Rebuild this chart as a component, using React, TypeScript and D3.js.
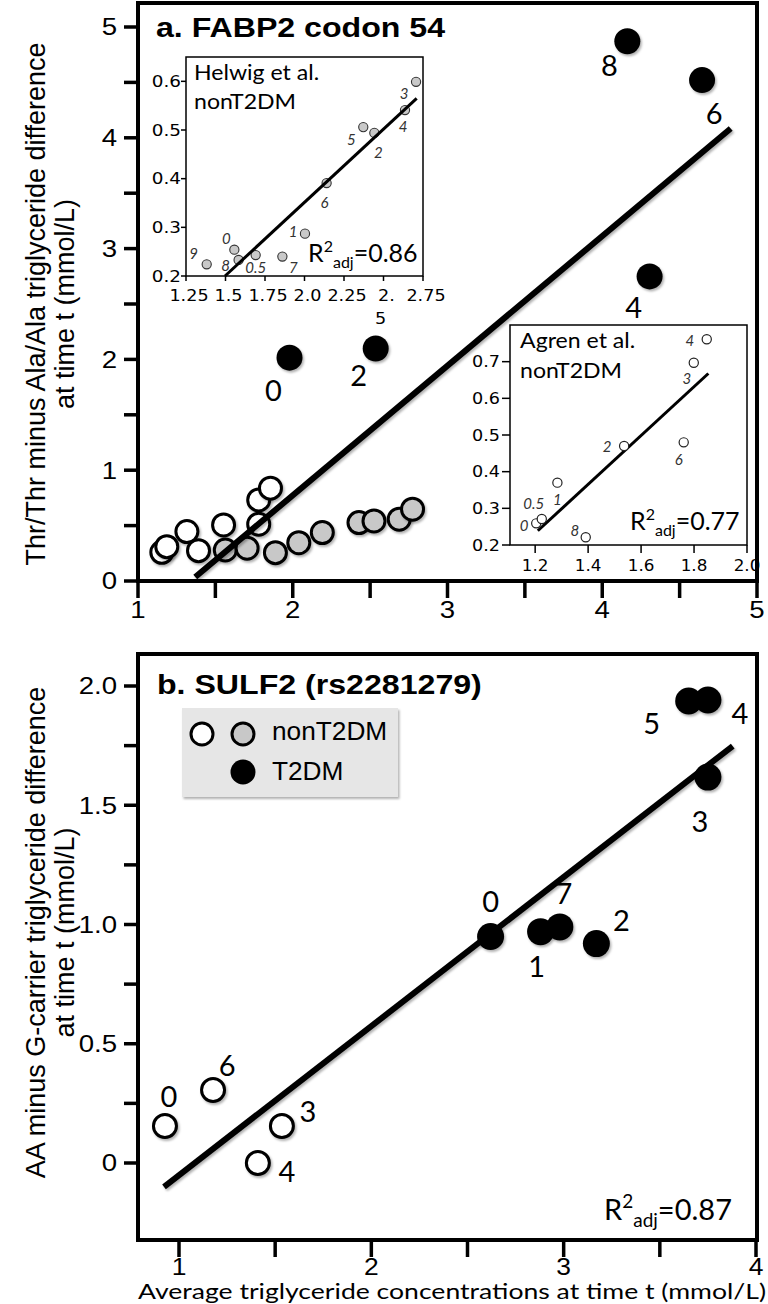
import React, { useEffect, useRef } from 'react';
import * as d3 from 'd3';

const W = 768, H = 1304;
const HELV = 'Liberation Sans, Arial, Helvetica, sans-serif';
const CAL = 'Lato, Carlito, sans-serif';
const DJV = 'DejaVu Sans, Verdana, sans-serif';

// ---- panel a: FABP2 codon 54 ----
const aOpenX = [1.154, 1.186, 1.316, 1.391, 1.553, 1.78, 1.78, 1.856];
const aOpenY = [0.259, 0.31, 0.446, 0.274, 0.506, 0.513, 0.732, 0.838];
const aGrayX = [1.564, 1.705, 1.888, 2.039, 2.191, 2.428, 2.525, 2.688, 2.774];
const aGrayY = [0.28, 0.296, 0.256, 0.346, 0.437, 0.527, 0.542, 0.558, 0.648];
const aBlackLabels = ['0', '2', '4', '8', '6'];
const aBlackX = [1.979, 2.536, 4.306, 4.162, 4.645];
const aBlackY = [2.016, 2.098, 2.749, 4.871, 4.521];
const aFit = [-1.567, 1.17]; // intercept, slope
const aFitRange = [1.37, 4.83];
const aTickLabels = ['1', '2', '3', '4', '5'];
const aYTickLabels = ['0', '1', '2', '3', '4', '5'];

// inset: Helwig et al. nonT2DM
const helLabels = ['9', '0', '8', '0.5', '7', '1', '6', '5', '2', '4', '3'];
const helX = [1.381, 1.556, 1.583, 1.691, 1.86, 2.003, 2.14, 2.372, 2.442, 2.636, 2.706];
const helY = [0.224, 0.254, 0.233, 0.243, 0.24, 0.287, 0.391, 0.506, 0.494, 0.541, 0.599];
const helFit = [-0.2506, 0.301];
const helFitRange = [1.497, 2.71];
const helXTicks = [1.25, 1.5, 1.75, 2.0, 2.25, 2.5, 2.75];
const helXTickLabels = ['1.25', '1.5', '1.75', '2.0', '2.25', '2.\n5', '2.75'];
const helYTicks = [0.2, 0.3, 0.4, 0.5, 0.6];

// inset: Agren et al. nonT2DM
const agrLabels = ['0', '0.5', '1', '8', '2', '6', '3', '4'];
const agrX = [1.204, 1.225, 1.284, 1.391, 1.536, 1.761, 1.799, 1.848];
const agrY = [0.259, 0.271, 0.37, 0.221, 0.47, 0.48, 0.697, 0.761];
const agrFit = [-0.567, 0.666];
const agrFitRange = [1.21, 1.854];
const agrXTicks = [1.2, 1.4, 1.6, 1.8, 2.0];
const agrYTicks = [0.2, 0.3, 0.4, 0.5, 0.6, 0.7];

// ---- panel b: SULF2 (rs2281279) ----
const bOpenLabels = ['0', '6', '3', '4'];
const bOpenX = [0.927, 1.177, 1.535, 1.41];
const bOpenY = [0.155, 0.306, 0.155, 0.0];
const bBlackLabels = ['0', '1', '7', '2', '5', '4', '3'];
const bBlackX = [2.62, 2.88, 2.98, 3.17, 3.65, 3.75, 3.75];
const bBlackY = [0.95, 0.97, 0.99, 0.92, 1.937, 1.941, 1.618];
const bFit = [-0.676, 0.625];
const bFitRange = [0.922, 3.879];
const bTickLabels = ['1', '2', '3', '4'];
const bYTicks = [0, 0.5, 1, 1.5, 2];
const bYTickLabels = ['0', '0.5', '1.0', '1.5', '2.0'];

// label offsets (px) next to each point
const aBlackOff = [[-16, 32], [-17, 26], [-16, 30], [-18, 23], [12, 32]];
const helOff = [[-13, -11], [-8, -12], [-13, 5], [0, 12], [11, 10], [-12, -3], [-2, 19], [-12, 12], [4, 19], [-2, 16], [-12, 11]];
const agrOff = [[-12, 2], [-8, -16], [0, 16], [-11, -7], [-17, 0], [-5, 17], [-7, 15], [-17, 1]];
const bOpenOff = [[4, -31], [14, -26], [26, -16], [29, 7]];
const bBlackOff = [[0, -36], [-4, 34], [4, -34], [25, -24], [-37, 21], [32, 12], [-8, 43]];

function txt(g: any, x: number, y: number, s: string, size: number, family: string, o: any = {}) {
  return g.append('text')
    .attr('transform', `translate(${x},${y}) scale(${o.sx || 1},1)`)
    .attr('text-anchor', o.anchor || 'middle')
    .attr('dominant-baseline', o.base || 'central')
    .attr('font-family', family)
    .attr('font-size', size)
    .attr('font-weight', o.weight || 'normal')
    .attr('font-style', o.italic ? 'italic' : 'normal')
    .attr('fill', o.fill || '#000')
    .text(s);
}

function r2(g: any, x: number, y: number, val: string, size = 25) {
  const small = Math.round(size * 0.64);
  const t = g.append('text').attr('x', x).attr('y', y)
    .attr('font-family', CAL).attr('font-size', size).attr('fill', '#000');
  t.append('tspan').text('R');
  t.append('tspan').attr('font-size', small).attr('dy', -size * 0.4).text('2');
  t.append('tspan').attr('font-size', small).attr('dy', size * 0.64).text('adj');
  t.append('tspan').attr('dy', -size * 0.24).text('=' + val);
}

function fitLine(g: any, xs: any, ys: any, fit: number[], range: number[], w: number, shadow: boolean) {
  const line = d3.line<number>().x(d => xs(d)).y(d => ys(fit[0] + fit[1] * d));
  const p = g.append('path').datum(range).attr('d', line)
    .attr('stroke', '#000').attr('stroke-width', w).attr('fill', 'none');
  if (shadow) p.attr('filter', 'url(#sh)');
}

export default function App() {
  const ref = useRef<SVGSVGElement>(null);

  useEffect(() => {
    const svg = d3.select(ref.current);
    svg.selectAll('*').remove();

    const defs = svg.append('defs');
    defs.append('filter').attr('id', 'sh').attr('x', '-50%').attr('y', '-50%').attr('width', '200%').attr('height', '200%')
      .append('feDropShadow').attr('dx', 1.5).attr('dy', 2).attr('stdDeviation', 1.3)
      .attr('flood-color', '#000').attr('flood-opacity', 0.3);

    svg.append('rect').attr('width', W).attr('height', H).attr('fill', '#fff');

    // ================= panel a =================
    const ax = d3.scaleLinear().domain([1, 5]).range([138, 757]);
    const ay = d3.scaleLinear().domain([0, 5]).range([581, 27]);
    const ga = svg.append('g');

    ga.selectAll('.axt').data(d3.range(1, 5.01, 0.5)).join('line')
      .attr('x1', d => ax(d)).attr('x2', d => ax(d)).attr('y1', ay(0)).attr('y2', ay(0) + 17)
      .attr('stroke', '#000').attr('stroke-width', 3.5);
    aTickLabels.forEach((l, i) => txt(ga, ax(i + 1), 610, l, 24, HELV, { sx: 1.15 }));
    ga.selectAll('.ayt').data(d3.range(0, 5.01, 0.5)).join('line')
      .attr('x1', 124).attr('x2', 138).attr('y1', d => ay(d)).attr('y2', d => ay(d))
      .attr('stroke', '#000').attr('stroke-width', 3.5);
    aYTickLabels.forEach((l, i) => txt(ga, 117, ay(i), l, 24, HELV, { anchor: 'end', sx: 1.15 }));

    ga.append('rect').attr('x', 138).attr('y', 3).attr('width', 757 - 138).attr('height', ay(0) - 3)
      .attr('fill', 'none').attr('stroke', '#000').attr('stroke-width', 4);

    const ta = ga.append('g').attr('transform', `translate(36,${(ay(0) + ay(5)) / 2}) rotate(-90)`);
    txt(ta, 0, 0, 'Thr/Thr minus Ala/Ala triglyceride difference', 27, HELV);
    const ta2 = ga.append('g').attr('transform', `translate(65,${(ay(0) + ay(5)) / 2}) rotate(-90)`);
    txt(ta2, 0, 0, 'at time t (mmol/L)', 27, HELV);

    txt(ga, 156, 37, 'a. FABP2 codon 54', 27, HELV, { anchor: 'start', base: 'auto', weight: 'bold', sx: 1.19 });

    // inset Helwig
    const hx = d3.scaleLinear().domain([1.25, 2.75]).range([186, 423]);
    const hy = d3.scaleLinear().domain([0.2, 0.65]).range([276, 57]);
    const gh = ga.append('g');
    gh.append('rect').attr('x', hx(1.25)).attr('y', hy(0.65)).attr('width', hx(2.75) - hx(1.25)).attr('height', hy(0.2) - hy(0.65))
      .attr('fill', '#fff').attr('stroke', '#000').attr('stroke-width', 1.5);
    gh.selectAll('.hxt').data(helXTicks).join('line')
      .attr('x1', d => hx(d)).attr('x2', d => hx(d)).attr('y1', hy(0.2)).attr('y2', hy(0.2) + 5)
      .attr('stroke', '#000').attr('stroke-width', 1.5);
    helXTickLabels.forEach((l, i) => {
      const parts = l.split('\n');
      parts.forEach((p, k) => txt(gh, hx(helXTicks[i]) + 3 - k * 6, 295 + k * 23, p, 16, DJV, { sx: 1.1 }));
    });
    gh.selectAll('.hyt').data(helYTicks).join('line')
      .attr('x1', hx(1.25) - 5).attr('x2', hx(1.25)).attr('y1', d => hy(d)).attr('y2', d => hy(d))
      .attr('stroke', '#000').attr('stroke-width', 1.5);
    helYTicks.forEach(v => txt(gh, 181, hy(v), v.toFixed(1), 16, DJV, { anchor: 'end', sx: 1.15 }));
    txt(gh, 194, 80, 'Helwig et al.', 22, CAL, { anchor: 'start', base: 'auto', sx: 1.05 });
    txt(gh, 194, 109, 'nonT2DM', 22, CAL, { anchor: 'start', base: 'auto', sx: 1.05 });
    gh.selectAll('.hp').data(helX).join('circle')
      .attr('cx', d => hx(d)).attr('cy', (d, i) => hy(helY[i])).attr('r', 4.6)
      .attr('fill', '#c9c9c9').attr('stroke', '#333').attr('stroke-width', 1.1);
    fitLine(gh, hx, hy, helFit, helFitRange, 3, false);
    helLabels.forEach((l, i) => txt(gh, hx(helX[i]) + helOff[i][0], hy(helY[i]) + helOff[i][1], l, 15, CAL, { italic: true, fill: '#333' }));
    r2(gh, 308, 262, '0.86');

    // main points
    ga.selectAll('.gp').data(aGrayX).join('circle')
      .attr('cx', d => ax(d)).attr('cy', (d, i) => ay(aGrayY[i])).attr('r', 11)
      .attr('fill', '#c8c8c8').attr('stroke', '#000').attr('stroke-width', 3).attr('filter', 'url(#sh)');
    ga.selectAll('.op').data(aOpenX).join('circle')
      .attr('cx', d => ax(d)).attr('cy', (d, i) => ay(aOpenY[i])).attr('r', 11)
      .attr('fill', '#fff').attr('stroke', '#000').attr('stroke-width', 3).attr('filter', 'url(#sh)');
    fitLine(ga, ax, ay, aFit, aFitRange, 6, true);
    ga.selectAll('.bp').data(aBlackX).join('circle')
      .attr('cx', d => ax(d)).attr('cy', (d, i) => ay(aBlackY[i])).attr('r', 13)
      .attr('fill', '#000').attr('filter', 'url(#sh)');
    aBlackLabels.forEach((l, i) => txt(ga, ax(aBlackX[i]) + aBlackOff[i][0], ay(aBlackY[i]) + aBlackOff[i][1], l, 29, CAL));

    // inset Agren
    const gx = d3.scaleLinear().domain([1.105, 2.0]).range([510, 747]);
    const gy = d3.scaleLinear().domain([0.2, 0.8]).range([545, 325]);
    const gg = ga.append('g');
    gg.append('rect').attr('x', gx(1.105)).attr('y', gy(0.8)).attr('width', gx(2.0) - gx(1.105)).attr('height', gy(0.2) - gy(0.8))
      .attr('fill', '#fff').attr('stroke', '#000').attr('stroke-width', 1.5);
    gg.selectAll('.gxt').data(agrXTicks).join('line')
      .attr('x1', d => gx(d)).attr('x2', d => gx(d)).attr('y1', gy(0.2)).attr('y2', gy(0.2) + 8)
      .attr('stroke', '#000').attr('stroke-width', 1.5);
    agrXTicks.forEach(v => txt(gg, gx(v), 566, v.toFixed(1), 16, DJV, { sx: 1.05 }));
    gg.selectAll('.gyt').data(agrYTicks).join('line')
      .attr('x1', gx(1.105) - 8).attr('x2', gx(1.105)).attr('y1', d => gy(d)).attr('y2', d => gy(d))
      .attr('stroke', '#000').attr('stroke-width', 1.5);
    agrYTicks.forEach(v => txt(gg, 500, gy(v), v.toFixed(1), 16, DJV, { anchor: 'end', sx: 1.1 }));
    txt(gg, 520, 348, 'Agren et al.', 22, CAL, { anchor: 'start', base: 'auto', sx: 1.05 });
    txt(gg, 520, 378, 'nonT2DM', 22, CAL, { anchor: 'start', base: 'auto', sx: 1.05 });
    fitLine(gg, gx, gy, agrFit, agrFitRange, 3, false);
    gg.selectAll('.ap').data(agrX).join('circle')
      .attr('cx', d => gx(d)).attr('cy', (d, i) => gy(agrY[i])).attr('r', 4.6)
      .attr('fill', '#fff').attr('stroke', '#222').attr('stroke-width', 1.2);
    agrLabels.forEach((l, i) => txt(gg, gx(agrX[i]) + agrOff[i][0], gy(agrY[i]) + agrOff[i][1], l, 15, CAL, { italic: true, fill: '#333' }));
    r2(gg, 630, 530, '0.77');

    // ================= panel b =================
    const bx = d3.scaleLinear().domain([1, 4]).range([179, 756]);
    const by = d3.scaleLinear().domain([0, 2]).range([1163, 686]);
    const gb = svg.append('g');
    const bTop = 654, bBottom = 1240;

    gb.selectAll('.bxt').data(d3.range(1, 4.01, 0.5)).join('line')
      .attr('x1', d => bx(d)).attr('x2', d => bx(d)).attr('y1', bBottom).attr('y2', bBottom + 17)
      .attr('stroke', '#000').attr('stroke-width', 3.5);
    bTickLabels.forEach((l, i) => txt(gb, bx(i + 1), 1267, l, 23, HELV, { sx: 1.15 }));
    gb.selectAll('.byt').data(d3.range(0, 2.01, 0.25)).join('line')
      .attr('x1', 124).attr('x2', 138).attr('y1', d => by(d)).attr('y2', d => by(d))
      .attr('stroke', '#000').attr('stroke-width', 3.5);
    bYTicks.forEach((v, i) => txt(gb, 117, by(v), bYTickLabels[i], 24, HELV, { anchor: 'end', sx: 1.15 }));
    gb.append('rect').attr('x', 138).attr('y', bTop).attr('width', 757 - 138).attr('height', bBottom - bTop)
      .attr('fill', 'none').attr('stroke', '#000').attr('stroke-width', 4);

    const midB = (by(0) + by(2)) / 2 + 8;
    const tb = gb.append('g').attr('transform', `translate(36,${midB}) rotate(-90)`);
    txt(tb, 0, 0, 'AA minus G-carrier triglyceride difference', 27, HELV);
    const tb2 = gb.append('g').attr('transform', `translate(65,${midB}) rotate(-90)`);
    txt(tb2, 0, 0, 'at time t (mmol/L)', 27, HELV);

    gb.append('text').attr('x', 138).attr('y', 1299).attr('font-family', CAL).attr('font-size', 22)
      .attr('textLength', 628).attr('lengthAdjust', 'spacingAndGlyphs')
      .text('Average triglyceride concentrations at time t (mmol/L)');

    txt(gb, 157, 694, 'b. SULF2 (rs2281279)', 27, HELV, { anchor: 'start', base: 'auto', weight: 'bold', sx: 1.19 });

    // legend
    const gl = gb.append('g');
    gl.append('rect').attr('x', 182).attr('y', 708).attr('width', 216).attr('height', 89)
      .attr('fill', '#e6e6e6').attr('filter', 'url(#sh)');
    gl.append('circle').attr('cx', 202).attr('cy', 734).attr('r', 11).attr('fill', '#fff').attr('stroke', '#000').attr('stroke-width', 3);
    gl.append('circle').attr('cx', 243).attr('cy', 734).attr('r', 11).attr('fill', '#c8c8c8').attr('stroke', '#000').attr('stroke-width', 3);
    gl.append('circle').attr('cx', 243).attr('cy', 772).attr('r', 12.5).attr('fill', '#000');
    txt(gl, 272, 740, 'nonT2DM', 25, HELV, { anchor: 'start', base: 'auto', sx: 1.05 });
    txt(gl, 272, 780, 'T2DM', 25, HELV, { anchor: 'start', base: 'auto', sx: 1.05 });

    fitLine(gb, bx, by, bFit, bFitRange, 6, true);
    gb.selectAll('.bop').data(bOpenX).join('circle')
      .attr('cx', d => bx(d)).attr('cy', (d, i) => by(bOpenY[i])).attr('r', 11.5)
      .attr('fill', '#fff').attr('stroke', '#000').attr('stroke-width', 3).attr('filter', 'url(#sh)');
    gb.selectAll('.bbp').data(bBlackX).join('circle')
      .attr('cx', d => bx(d)).attr('cy', (d, i) => by(bBlackY[i])).attr('r', 13.5)
      .attr('fill', '#000').attr('filter', 'url(#sh)');
    bOpenLabels.forEach((l, i) => txt(gb, bx(bOpenX[i]) + bOpenOff[i][0], by(bOpenY[i]) + bOpenOff[i][1], l, 29, CAL));
    bBlackLabels.forEach((l, i) => txt(gb, bx(bBlackX[i]) + bBlackOff[i][0], by(bBlackY[i]) + bBlackOff[i][1], l, 29, CAL));
    r2(gb, 604, 1220, '0.87', 29);
  }, []);

  return (
    <svg ref={ref} width={W} height={H}
      style={{ position: 'absolute', left: 0, top: 0, display: 'block' }} />
  );
}
